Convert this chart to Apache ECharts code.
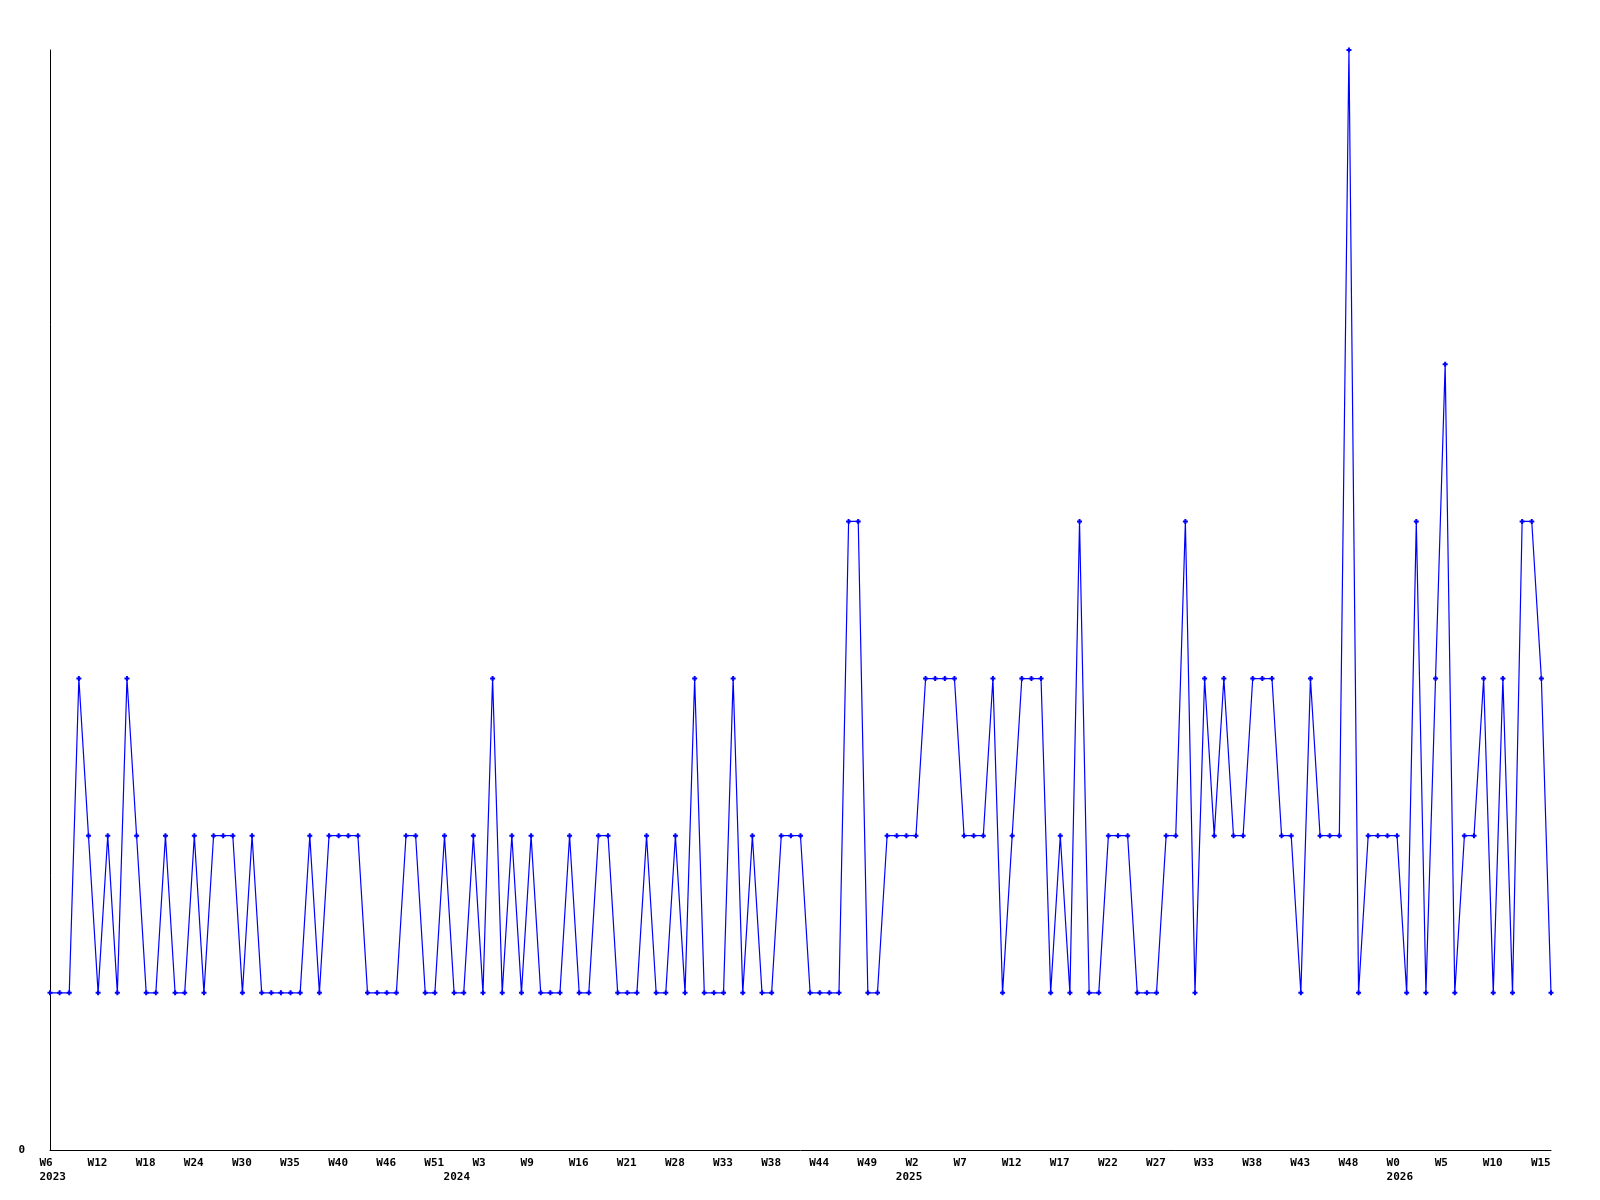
<!DOCTYPE html>
<html>
<head>
<meta charset="utf-8">
<script src="https://cdn.jsdelivr.net/npm/echarts@6/dist/echarts.min.js"></script>
<style>
  html, body { margin: 0; padding: 0; background: #fff; }
  #chart { width: 1600px; height: 1200px; }
</style>
</head>
<body>
<div id="chart"></div>
<script>
// one value per point
const values = [
  1, 1, 1, 3, 2, 1, 2, 1, 3, 2,
  1, 1, 2, 1, 1, 2, 1, 2, 2, 2,
  1, 2, 1, 1, 1, 1, 1, 2, 1, 2,
  2, 2, 2, 1, 1, 1, 1, 2, 2, 1,
  1, 2, 1, 1, 2, 1, 3, 1, 2, 1,
  2, 1, 1, 1, 2, 1, 1, 2, 2, 1,
  1, 1, 2, 1, 1, 2, 1, 3, 1, 1,
  1, 3, 1, 2, 1, 1, 2, 2, 2, 1,
  1, 1, 1, 4, 4, 1, 1, 2, 2, 2,
  2, 3, 3, 3, 3, 2, 2, 2, 3, 1,
  2, 3, 3, 3, 1, 2, 1, 4, 1, 1,
  2, 2, 2, 1, 1, 1, 2, 2, 4, 1,
  3, 2, 3, 2, 2, 3, 3, 3, 2, 2,
  1, 3, 2, 2, 2, 7, 1, 2, 2, 2,
  2, 1, 4, 1, 3, 5, 1, 2, 2, 3,
  1, 3, 1, 4, 4, 3, 1
]

// week labels, one every tickStep points
const tickStep = 5
const weekTicks = [
  'W6', 'W12', 'W18', 'W24', 'W30', 'W35', 'W40', 'W46', 'W51', 'W3',
  'W9', 'W16', 'W21', 'W28', 'W33', 'W38', 'W44', 'W49', 'W2', 'W7',
  'W12', 'W17', 'W22', 'W27', 'W33', 'W38', 'W43', 'W48', 'W0', 'W5',
  'W10', 'W15'
]

// year labels and the point index where each year starts
const years = ['2023', '2024', '2025', '2026']
const yearStart = [0, 42, 89, 140]

const categories = values.map((v, i) => String(i))

function labelFor(i) {
  let week = ''
  if (i % tickStep === 0) week = weekTicks[i / tickStep] || ''
  const y = yearStart.indexOf(i)
  const year = y >= 0 ? years[y] : ''
  let s = '{t|' + week + '}'
  if (year) s += '\n{t|' + year + '}'
  return s
}

const chart = echarts.init(document.getElementById('chart'))
chart.setOption({
  animation: false,
  backgroundColor: '#ffffff',
  grid: {
    left: 50,
    right: 49,
    top: 50,
    bottom: 50,
    containLabel: false
  },
  xAxis: {
    type: 'category',
    data: categories,
    boundaryGap: false,
    axisLine: { show: true, lineStyle: { color: '#000', width: 1 } },
    axisTick: { show: false },
    splitLine: { show: false },
    axisLabel: {
      interval: function(i) {
        return i % tickStep === 0 || yearStart.indexOf(i) >= 0
      },
      margin: 6,
      formatter: function(value, index) {
        return labelFor(index)
      },
      rich: {
        t: {
          width: 21,
          align: 'left',
          lineHeight: 14,
          fontFamily: 'DejaVu Sans Mono',
          fontWeight: 'bold',
          fontSize: 11,
          color: '#000'
        }
      }
    }
  },
  yAxis: {
    type: 'value',
    min: 0,
    max: 7,
    interval: 7,
    axisLine: { show: true, lineStyle: { color: '#000', width: 1 } },
    axisTick: { show: false },
    splitLine: { show: false },
    axisLabel: {
      margin: 25,
      fontFamily: 'DejaVu Sans Mono',
      fontWeight: 'bold',
      fontSize: 11,
      color: '#000',
      formatter: function(v) {
        return v === 0 ? '0' : ''
      }
    }
  },
  series: [
    {
      type: 'line',
      data: values,
      symbol: 'path://M1.5,0h2v1.5h1.5v2h-1.5v1.5h-2v-1.5h-1.5v-2h1.5z',
      symbolSize: 5,
      showAllSymbol: true,
      itemStyle: { color: '#0000ff' },
      lineStyle: { color: '#0000ff', width: 1.2 }
    }
  ]
})
</script>
</body>
</html>
